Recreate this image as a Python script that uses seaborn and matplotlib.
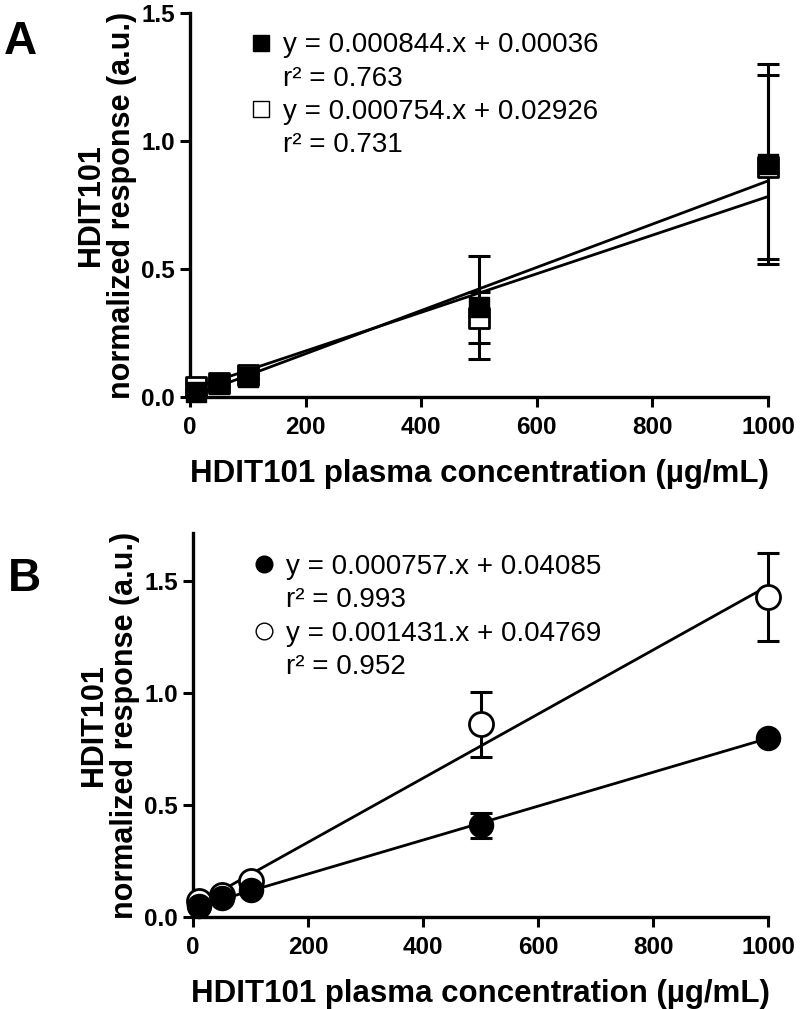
import matplotlib
matplotlib.use("Agg")
import matplotlib.pyplot as plt
from matplotlib.lines import Line2D
import seaborn as sns
import numpy as np
import pandas as pd

# ---------------- data ----------------
conc = [10, 50, 100, 500, 1000]

a_filled = [0.02, 0.05, 0.08, 0.35, 0.91]
a_filled_err = [0.01, 0.01, 0.01, 0.20, 0.39]
a_open = [0.04, 0.055, 0.085, 0.31, 0.90]
a_open_err = [0.015, 0.01, 0.01, 0.10, 0.36]

b_filled = [0.05, 0.085, 0.12, 0.41, 0.80]
b_filled_err = [0.01, 0.01, 0.01, 0.055, 0.01]
b_open = [0.07, 0.10, 0.16, 0.86, 1.43]
b_open_err = [0.01, 0.01, 0.01, 0.145, 0.195]

a_fit = {"filled": (0.000844, 0.00036), "open": (0.000754, 0.02926)}
b_fit = {"filled": (0.000757, 0.04085), "open": (0.001431, 0.04769)}
a_r2 = {"filled": "0.763", "open": "0.731"}
b_r2 = {"filled": "0.993", "open": "0.952"}
a_eq = {"filled": "y = 0.000844.x + 0.00036", "open": "y = 0.000754.x + 0.02926"}
b_eq = {"filled": "y = 0.000757.x + 0.04085", "open": "y = 0.001431.x + 0.04769"}

x_ticks = [0, 200, 400, 600, 800, 1000]
y_ticks = [0.0, 0.5, 1.0, 1.5]
xlabel = "HDIT101 plasma concentration (µg/mL)"
ylabel = "HDIT101\nnormalized response (a.u.)"

# ---------------- style ----------------
sns.set_theme(style="ticks")
plt.rcParams["font.family"] = ["Liberation Sans", "DejaVu Sans"]
plt.rcParams["text.color"] = "black"
plt.rcParams["axes.labelcolor"] = "black"
plt.rcParams["xtick.color"] = "black"
plt.rcParams["ytick.color"] = "black"

fig = plt.figure(figsize=(8.0, 10.09), dpi=100)
axA = fig.add_axes([0.2375, 0.6065, 0.7225, 0.3805])
axB = fig.add_axes([0.2413, 0.0912, 0.7187, 0.3805])

LW = 2.0


def draw_panel(ax, filled, filled_err, opn, opn_err, fits, eqs, r2s, marker, ms, ylim_top,
               letter, letter_y, leg_y):
    df = pd.DataFrame({"conc": conc, "filled": filled, "open": opn})
    xs = np.array([min(conc), max(conc)])
    # fit lines
    for key in ["filled", "open"]:
        slope, icpt = fits[key]
        line_df = pd.DataFrame({"x": xs, "y": slope * xs + icpt})
        sns.lineplot(data=line_df, x="x", y="y", ax=ax, color="black", lw=LW, zorder=2)
    # error bars
    ax.errorbar(conc, opn, yerr=opn_err, fmt="none", ecolor="black", elinewidth=2.2,
                capsize=8, capthick=2.2, zorder=3, clip_on=False)
    ax.errorbar(conc, filled, yerr=filled_err, fmt="none", ecolor="black", elinewidth=2.2,
                capsize=8, capthick=2.2, zorder=3, clip_on=False)
    # markers
    sns.scatterplot(data=df, x="conc", y="open", ax=ax, marker=marker, s=ms,
                    facecolor="white", edgecolor="black", linewidth=2.0, zorder=4, clip_on=False)
    sns.scatterplot(data=df, x="conc", y="filled", ax=ax, marker=marker, s=ms,
                    color="black", edgecolor="black", linewidth=1.0, zorder=5, clip_on=False)

    ax.set_xlim(0, 1000)
    ax.set_ylim(0, ylim_top)
    ax.set_xticks(x_ticks)
    ax.set_yticks(y_ticks)
    ax.set_xticklabels([str(t) for t in x_ticks], fontsize=17.5, fontweight="bold")
    ax.set_yticklabels([f"{t:.1f}" for t in y_ticks], fontsize=17.5, fontweight="bold")
    ax.set_xlabel(xlabel, fontsize=22.5, fontweight="bold", labelpad=14)
    ax.set_ylabel(ylabel, fontsize=22, fontweight="bold", labelpad=3, linespacing=1.05)
    sns.despine(ax=ax)
    for s in ["left", "bottom"]:
        ax.spines[s].set_linewidth(2.4)
        ax.spines[s].set_color("black")
    ax.tick_params(axis="both", direction="out", length=7, width=2.2, colors="black", pad=4)
    ax.tick_params(axis="x", pad=7)

    handles = [
        Line2D([], [], ls="none", marker=marker, markersize=12, markerfacecolor="black",
               markeredgecolor="black"),
        Line2D([], [], ls="none"),
        Line2D([], [], ls="none", marker=marker, markersize=12, markerfacecolor="white",
               markeredgecolor="black", markeredgewidth=1.0),
        Line2D([], [], ls="none"),
    ]
    labels = [eqs["filled"], f"r² = {r2s['filled']}", eqs["open"], f"r² = {r2s['open']}"]
    ax.legend(handles, labels, loc="upper left", bbox_to_anchor=(0.105, leg_y), frameon=False,
              fontsize=20, handlelength=0.75, handletextpad=0.42, labelspacing=0.26,
              borderpad=0, borderaxespad=0)

    ax.text(-0.322, letter_y, letter, transform=ax.transAxes,
            fontsize=33, fontweight="bold", ha="left", va="center")


draw_panel(axA, a_filled, a_filled_err, a_open, a_open_err, a_fit, a_eq, a_r2, "s", 210, 1.5,
           "A", 0.925, 0.95)
draw_panel(axB, b_filled, b_filled_err, b_open, b_open_err, b_fit, b_eq, b_r2, "o", 300, 1.715,
           "B", 0.88, 0.945)

fig.savefig("out.png", dpi=100, facecolor="white")
